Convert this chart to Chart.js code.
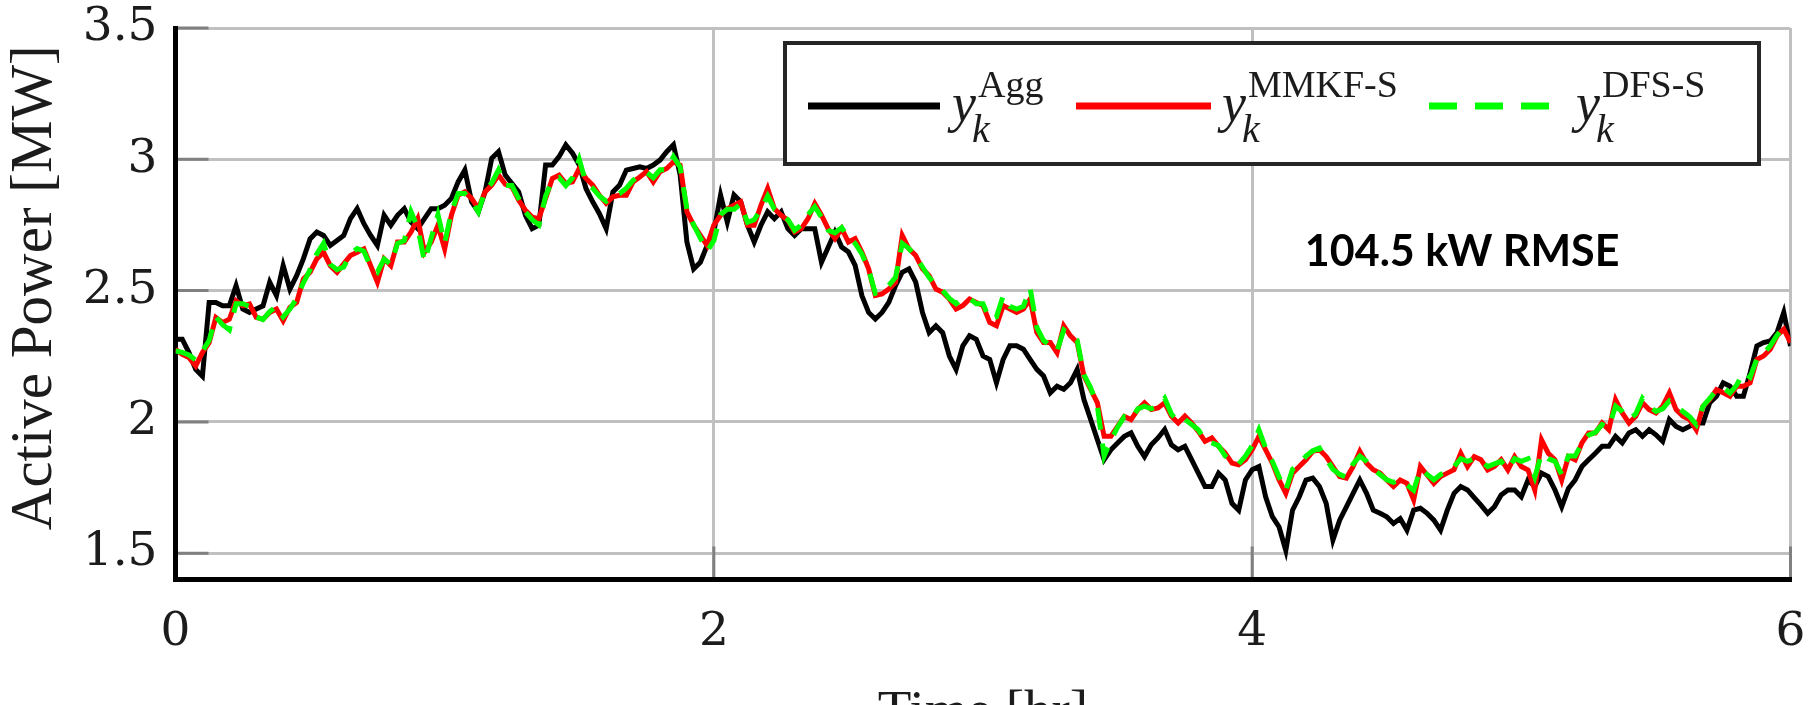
<!DOCTYPE html>
<html>
<head>
<meta charset="utf-8">
<script src="https://cdn.jsdelivr.net/npm/chart.js@4.4.1/dist/chart.umd.min.js"></script>
<style>
  html, body { margin: 0; padding: 0; background: #fff; overflow: hidden; }
  #wrap { position: relative; width: 1816px; height: 760px; }
</style>
</head>
<body>
<div id="wrap"><canvas id="power" width="1816" height="760"></canvas></div>
<script>
// Sample times [hr]
const hours = [
  0,0.025,0.05,0.075,0.1,0.125,0.15,0.175,0.2,0.225,
  0.25,0.275,0.3,0.325,0.35,0.375,0.4,0.425,0.45,0.475,
  0.5,0.525,0.55,0.575,0.6,0.625,0.65,0.675,0.7,0.725,
  0.75,0.775,0.8,0.825,0.85,0.875,0.9,0.925,0.95,0.975,
  1,1.025,1.05,1.075,1.1,1.125,1.15,1.175,1.2,1.225,
  1.25,1.275,1.3,1.325,1.35,1.375,1.4,1.425,1.45,1.475,
  1.5,1.525,1.55,1.575,1.6,1.625,1.65,1.675,1.7,1.725,
  1.75,1.775,1.8,1.825,1.85,1.875,1.9,1.925,1.95,1.975,
  2,2.025,2.05,2.075,2.1,2.125,2.15,2.175,2.2,2.225,
  2.25,2.275,2.3,2.325,2.35,2.375,2.4,2.425,2.45,2.475,
  2.5,2.525,2.55,2.575,2.6,2.625,2.65,2.675,2.7,2.725,
  2.75,2.775,2.8,2.825,2.85,2.875,2.9,2.925,2.95,2.975,
  3,3.025,3.05,3.075,3.1,3.125,3.15,3.175,3.2,3.225,
  3.25,3.275,3.3,3.325,3.35,3.375,3.4,3.425,3.45,3.475,
  3.5,3.525,3.55,3.575,3.6,3.625,3.65,3.675,3.7,3.725,
  3.75,3.775,3.8,3.825,3.85,3.875,3.9,3.925,3.95,3.975,
  4,4.025,4.05,4.075,4.1,4.125,4.15,4.175,4.2,4.225,
  4.25,4.275,4.3,4.325,4.35,4.375,4.4,4.425,4.45,4.475,
  4.5,4.525,4.55,4.575,4.6,4.625,4.65,4.675,4.7,4.725,
  4.75,4.775,4.8,4.825,4.85,4.875,4.9,4.925,4.95,4.975,
  5,5.025,5.05,5.075,5.1,5.125,5.15,5.175,5.2,5.225,
  5.25,5.275,5.3,5.325,5.35,5.375,5.4,5.425,5.45,5.475,
  5.5,5.525,5.55,5.575,5.6,5.625,5.65,5.675,5.7,5.725,
  5.75,5.775,5.8,5.825,5.85,5.875,5.9,5.925,5.95,5.975,
  6
];

// Aggregate active power y_k^Agg [MW]
const powerAgg = [
  2.315,2.315,2.264,2.2,2.174,2.455,2.455,2.442,2.442,2.519,
  2.43,2.417,2.43,2.442,2.532,2.481,2.595,2.506,2.557,2.621,
  2.697,2.723,2.71,2.672,2.691,2.71,2.774,2.812,2.755,2.71,
  2.672,2.787,2.749,2.787,2.812,2.761,2.736,2.774,2.812,2.812,
  2.825,2.851,2.914,2.959,2.838,2.8,2.876,3.004,3.029,2.94,
  2.908,2.876,2.787,2.736,2.749,2.978,2.978,3.01,3.055,3.023,
  2.978,2.889,2.838,2.793,2.736,2.876,2.902,2.959,2.965,2.971,
  2.965,2.978,2.997,3.029,3.055,2.94,2.685,2.583,2.608,2.672,
  2.723,2.864,2.761,2.864,2.838,2.749,2.685,2.749,2.8,2.774,
  2.8,2.736,2.71,2.736,2.736,2.736,2.608,2.665,2.723,2.666,
  2.647,2.596,2.481,2.417,2.392,2.417,2.455,2.519,2.57,2.583,
  2.532,2.417,2.34,2.366,2.34,2.251,2.2,2.29,2.328,2.315,
  2.251,2.238,2.149,2.238,2.29,2.29,2.277,2.238,2.2,2.175,
  2.111,2.136,2.124,2.149,2.2,2.085,2.009,1.932,1.856,1.894,
  1.92,1.945,1.958,1.907,1.868,1.913,1.939,1.971,1.913,1.894,
  1.907,1.856,1.805,1.754,1.754,1.805,1.779,1.69,1.664,1.779,
  1.818,1.83,1.715,1.639,1.6,1.511,1.664,1.715,1.779,1.786,
  1.754,1.69,1.55,1.626,1.677,1.728,1.779,1.728,1.664,1.652,
  1.639,1.613,1.632,1.588,1.664,1.671,1.652,1.626,1.588,1.664,
  1.728,1.754,1.741,1.712,1.683,1.652,1.677,1.722,1.741,1.741,
  1.715,1.779,1.754,1.805,1.792,1.741,1.677,1.747,1.779,1.83,
  1.856,1.881,1.907,1.907,1.945,1.92,1.958,1.97,1.945,1.97,
  1.951,1.926,2.009,1.983,1.97,1.983,1.996,1.996,2.073,2.098,
  2.149,2.136,2.098,2.098,2.187,2.289,2.302,2.308,2.34,2.417,
  2.289
];

// MMKF-S estimate y_k^MMKF-S [MW]
const powerMMKF = [
  2.277,2.257,2.245,2.213,2.264,2.302,2.398,2.379,2.391,2.461,
  2.442,2.449,2.398,2.391,2.417,2.43,2.385,2.436,2.455,2.544,
  2.57,2.621,2.646,2.595,2.57,2.602,2.634,2.646,2.659,2.595,
  2.532,2.621,2.595,2.685,2.685,2.723,2.774,2.646,2.685,2.749,
  2.659,2.787,2.863,2.876,2.851,2.812,2.876,2.902,2.94,2.905,
  2.895,2.844,2.806,2.78,2.774,2.851,2.927,2.94,2.908,2.914,
  2.965,2.927,2.902,2.863,2.832,2.857,2.863,2.863,2.914,2.933,
  2.953,2.914,2.953,2.965,2.99,2.978,2.8,2.749,2.71,2.672,
  2.749,2.787,2.812,2.825,2.838,2.749,2.749,2.825,2.889,2.812,
  2.787,2.768,2.723,2.736,2.774,2.832,2.787,2.735,2.698,2.736,
  2.685,2.698,2.647,2.583,2.481,2.487,2.506,2.532,2.71,2.659,
  2.634,2.583,2.557,2.506,2.494,2.468,2.43,2.443,2.468,2.455,
  2.443,2.379,2.366,2.443,2.43,2.417,2.43,2.468,2.34,2.302,
  2.302,2.264,2.366,2.328,2.302,2.175,2.124,2.073,1.945,1.945,
  1.983,2.021,2.009,2.047,2.073,2.047,2.053,2.073,2.022,1.996,
  2.022,1.996,1.964,1.926,1.939,1.907,1.881,1.843,1.837,1.856,
  1.894,1.945,1.894,1.843,1.779,1.728,1.805,1.83,1.856,1.888,
  1.894,1.868,1.83,1.792,1.786,1.83,1.888,1.843,1.818,1.805,
  1.779,1.754,1.779,1.766,1.703,1.83,1.798,1.766,1.792,1.805,
  1.818,1.881,1.83,1.868,1.856,1.817,1.83,1.856,1.817,1.868,
  1.83,1.817,1.741,1.932,1.881,1.856,1.779,1.868,1.856,1.92,
  1.958,1.958,1.996,1.97,2.085,2.034,1.996,2.022,2.073,2.047,
  2.034,2.06,2.111,2.047,2.022,2.009,1.97,2.06,2.085,2.123,
  2.111,2.098,2.136,2.136,2.149,2.238,2.251,2.277,2.328,2.353,
  2.302
];

// DFS-S estimate y_k^DFS-S [MW]
const powerDFS = [
  2.27,2.265,2.255,2.235,2.27,2.31,2.4,2.37,2.35,2.45,
  2.45,2.44,2.4,2.39,2.42,2.44,2.4,2.43,2.47,2.53,
  2.58,2.64,2.68,2.6,2.58,2.59,2.64,2.66,2.65,2.59,
  2.57,2.62,2.6,2.68,2.69,2.8,2.74,2.61,2.7,2.79,
  2.68,2.8,2.87,2.87,2.84,2.8,2.88,2.91,2.96,2.9,
  2.9,2.85,2.8,2.77,2.75,2.86,2.92,2.93,2.9,2.93,
  3,2.91,2.89,2.86,2.84,2.86,2.87,2.89,2.92,2.94,
  2.95,2.93,2.96,2.96,3.01,2.97,2.81,2.75,2.7,2.65,
  2.69,2.79,2.81,2.81,2.83,2.76,2.77,2.81,2.86,2.81,
  2.79,2.77,2.73,2.75,2.79,2.82,2.78,2.73,2.72,2.74,
  2.7,2.68,2.64,2.58,2.49,2.5,2.52,2.55,2.68,2.66,
  2.63,2.59,2.55,2.52,2.5,2.47,2.45,2.47,2.47,2.45,
  2.45,2.39,2.4,2.48,2.44,2.43,2.44,2.51,2.36,2.31,
  2.29,2.27,2.35,2.33,2.31,2.18,2.13,2.06,1.87,1.93,
  1.98,2.02,2.01,2.05,2.06,2.05,2.06,2.09,2.03,2,
  2.01,1.99,1.97,1.93,1.92,1.91,1.87,1.85,1.84,1.87,
  1.91,1.97,1.9,1.85,1.79,1.74,1.82,1.84,1.87,1.89,
  1.9,1.86,1.82,1.8,1.79,1.84,1.87,1.85,1.82,1.8,
  1.78,1.77,1.78,1.76,1.74,1.82,1.8,1.78,1.8,1.81,
  1.83,1.86,1.85,1.86,1.85,1.83,1.84,1.85,1.82,1.86,
  1.85,1.86,1.79,1.88,1.86,1.85,1.8,1.87,1.87,1.92,
  1.95,1.96,1.99,1.98,2.06,2.04,2.01,2.03,2.09,2.06,
  2.04,2.05,2.08,2.06,2.04,2.02,1.99,2.06,2.09,2.12,
  2.13,2.11,2.14,2.19,2.17,2.24,2.26,2.29,2.33,2.36,
  2.35
];

const xTicks = [0, 2, 4, 6];
const yTicks = [1.5, 2, 2.5, 3, 3.5];
const yTickLabels = ['1.5', '2', '2.5', '3', '3.5'];

// Legend symbols: y_k with a superscript tag
const seriesTags = ['Agg', 'MMKF-S', 'DFS-S'];

const yAxisTitle = 'Active Power [MW]';
const rmseNote = '104.5 kW RMSE';
const rmseAnchor = { x: 4.78, y: 2.647 };

const SERIF = "'Liberation Serif', 'Times New Roman', serif";
const TICK_FONT = "'DejaVu Serif', 'Liberation Serif', serif";
const INK = '#1c1c1c';

// Keep the plot frame at fixed pixel bounds (labels may overhang the padding)
function pinAxis(size) {
  return s => {
    if (s.isHorizontal()) s.height = size; else s.width = size;
    s.paddingTop = 0; s.paddingBottom = 0; s.paddingLeft = 0; s.paddingRight = 0;
  };
}

// Short inward tick marks in dark grey along the left and bottom axes
const innerTicks = {
  id: 'innerTicks',
  beforeDatasetsDraw(chart) {
    const { ctx, chartArea: a, scales } = chart;
    ctx.save();
    ctx.strokeStyle = '#808080';
    ctx.lineWidth = 3;
    ctx.beginPath();
    yTicks.forEach(v => {
      const y = scales.y.getPixelForValue(v);
      ctx.moveTo(a.left + 2.5, y);
      ctx.lineTo(a.left + 33, y);
    });
    xTicks.forEach(v => {
      const x = scales.x.getPixelForValue(v);
      if (x - a.left < 4) return;
      ctx.moveTo(x, a.bottom - 2.5);
      ctx.lineTo(x, a.bottom - 33);
    });
    ctx.stroke();
    ctx.restore();
  }
};

// Rotated y-axis title, set slightly above the axis middle
const sideTitle = {
  id: 'sideTitle',
  afterDraw(chart) {
    const { ctx, chartArea: a } = chart;
    ctx.save();
    ctx.translate(35, (a.top + a.bottom) / 2 - 16);
    ctx.rotate(-Math.PI / 2);
    ctx.fillStyle = INK;
    ctx.font = `59px ${SERIF}`;
    ctx.textAlign = 'center';
    ctx.textBaseline = 'middle';
    ctx.fillText(yAxisTitle, 0, 0);
    ctx.restore();
  }
};

// Framed legend with math-style labels, plus the RMSE note
const keyAndNote = {
  id: 'keyAndNote',
  afterDraw(chart) {
    const { ctx, scales } = chart;
    const sets = chart.data.datasets;
    ctx.save();

    // frame
    const bx = 785, by = 43, bw = 974, bh = 121;
    ctx.fillStyle = '#fff';
    ctx.fillRect(bx, by, bw, bh);
    ctx.lineWidth = 4;
    ctx.strokeStyle = '#262626';
    ctx.strokeRect(bx, by, bw, bh);

    const lineY = 106;
    const slots = [
      { x0: 808, x1: 940, lx: 952 },
      { x0: 1076, x1: 1211, lx: 1222 },
      { x0: 1429, x1: 1550, lx: 1576 }
    ];
    slots.forEach((s, i) => {
      const ds = sets[i];
      ctx.save();
      ctx.strokeStyle = ds.borderColor;
      ctx.lineWidth = 7;
      ctx.setLineDash(i === 2 ? [28, 18] : []);
      ctx.beginPath();
      ctx.moveTo(s.x0, lineY);
      ctx.lineTo(s.x1, lineY);
      ctx.stroke();
      ctx.restore();

      ctx.fillStyle = INK;
      ctx.textBaseline = 'alphabetic';
      ctx.textAlign = 'left';
      ctx.font = `italic 54px ${SERIF}`;
      ctx.fillText('y', s.lx, 121);
      const yw = ctx.measureText('y').width;
      ctx.font = `italic 40px ${SERIF}`;
      ctx.fillText('k', s.lx + yw - 4, 142);
      ctx.font = `38px ${SERIF}`;
      ctx.fillText(seriesTags[i], s.lx + yw + 2, 97);
    });

    // RMSE note
    ctx.fillStyle = '#000';
    ctx.font = "bold 43px Lato, 'Liberation Sans', sans-serif";
    ctx.textAlign = 'center';
    ctx.textBaseline = 'middle';
    ctx.fillText(rmseNote, scales.x.getPixelForValue(rmseAnchor.x), scales.y.getPixelForValue(rmseAnchor.y));
    ctx.restore();
  }
};

new Chart(document.getElementById('power'), {
  type: 'line',
  data: {
    labels: hours,
    datasets: [
      { label: 'Agg', data: powerAgg, borderColor: '#000000', order: 3 },
      { label: 'MMKF-S', data: powerMMKF, borderColor: '#ff0000', order: 2 },
      { label: 'DFS-S', data: powerDFS, borderColor: '#00ff00', borderDash: [22, 14], order: 1 }
    ]
  },
  options: {
    responsive: false,
    devicePixelRatio: 1,
    animation: false,
    layout: { padding: { left: 0, right: 25.5, top: 28, bottom: 0 } },
    elements: {
      point: { radius: 0 },
      line: { borderWidth: 5, tension: 0, fill: false, borderJoinStyle: 'miter', borderCapStyle: 'butt' }
    },
    plugins: { legend: { display: false }, tooltip: { enabled: false } },
    scales: {
      x: {
        type: 'linear',
        min: 0,
        max: 6,
        afterBuildTicks: s => { s.ticks = xTicks.map(v => ({ value: v })); },
        afterFit: pinAxis(180.5),
        grid: { color: '#c0c0c0', lineWidth: 3, drawTicks: false },
        border: { color: '#000', width: 5 },
        ticks: { color: INK, padding: 30, maxRotation: 0, font: { family: TICK_FONT, size: 47, lineHeight: 1 } },
        title: { display: true, text: 'Time [hr]', color: INK, padding: { top: 0, bottom: 19 }, font: { family: SERIF, size: 55, lineHeight: 1 } }
      },
      y: {
        min: 1.4,
        max: 3.5,
        afterBuildTicks: s => { s.ticks = yTicks.map(v => ({ value: v })); },
        afterFit: pinAxis(175.5),
        grid: { color: '#c0c0c0', lineWidth: 3, drawTicks: false },
        border: { color: '#000', width: 5 },
        ticks: {
          color: INK, padding: 18,
          font: { family: TICK_FONT, size: 47, lineHeight: 1 },
          callback: v => yTickLabels[yTicks.indexOf(v)]
        },
        title: { display: false }
      }
    }
  },
  plugins: [innerTicks, sideTitle, keyAndNote]
});
</script>
</body>
</html>
